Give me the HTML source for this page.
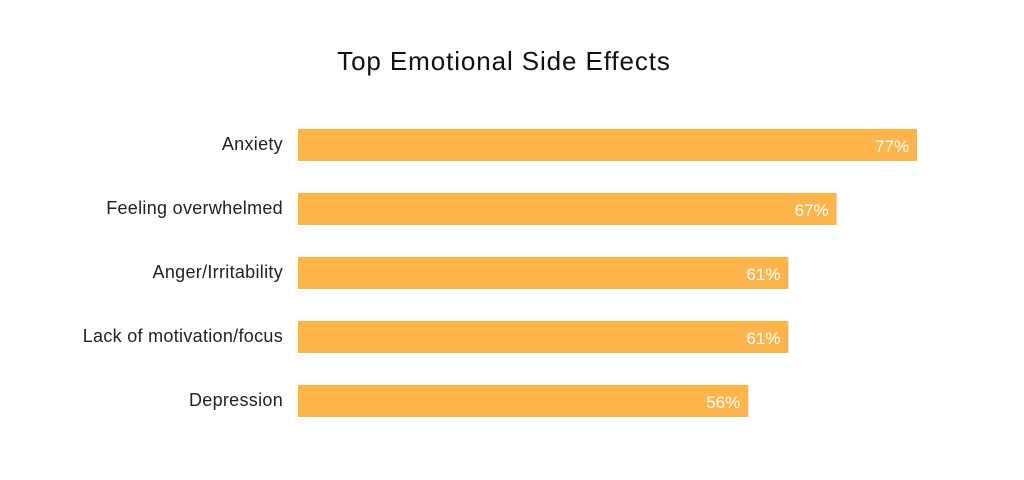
<!DOCTYPE html>
<html><head><meta charset="utf-8"><style>
body{margin:0;background:#fff;}
svg{display:block;font-family:"Liberation Sans",sans-serif;}
</style></head><body>
<svg id="chart" width="1024" height="480">
<text x="504" y="70" text-anchor="middle" font-size="26" letter-spacing="0.9" fill="#111">Top Emotional Side Effects</text>
<g id="bars"></g>
</svg>
<script>
const categories = ["Anxiety","Feeling overwhelmed","Anger/Irritability","Lack of motivation/focus","Depression"];
const values = [77,67,61,61,56];
const valueLabels = ["77%","67%","61%","61%","56%"];
const x = v => 298 + v * 8.04;
const y = i => 129 + i * 64;
const g = document.getElementById('bars');
const ns = 'http://www.w3.org/2000/svg';
categories.forEach((c,i)=>{
  const r = document.createElementNS(ns,'rect');
  r.setAttribute('x',298); r.setAttribute('y',y(i));
  r.setAttribute('width',x(values[i])-298); r.setAttribute('height',32);
  r.setAttribute('fill','#FDB44B');
  
  
  g.appendChild(r);
  const t = document.createElementNS(ns,'text');
  t.setAttribute('x',283); t.setAttribute('y',y(i)+21);
  t.setAttribute('text-anchor','end'); t.setAttribute('font-size','18'); t.setAttribute('letter-spacing','0.3'); t.setAttribute('fill','#222');
  t.textContent = c;
  
  
  g.appendChild(t);
  const v = document.createElementNS(ns,'text');
  v.setAttribute('x',x(values[i])-8); v.setAttribute('y',y(i)+23);
  v.setAttribute('text-anchor','end'); v.setAttribute('font-size','17'); v.setAttribute('fill','#fff');
  v.textContent = valueLabels[i];
  
  
  g.appendChild(v);
});
</script>
</body></html>
